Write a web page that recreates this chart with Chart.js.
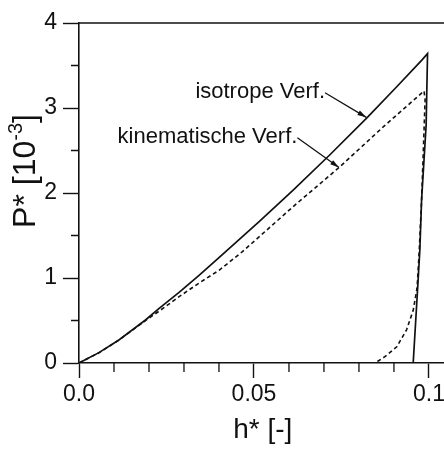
<!DOCTYPE html>
<html>
<head>
<meta charset="utf-8">
<script src="https://cdn.jsdelivr.net/npm/chart.js@4.4.0/dist/chart.umd.min.js"></script>
<style>
  html, body { margin: 0; padding: 0; background: #fff; overflow: hidden; }
  #wrap { position: relative; width: 448px; height: 449px; }
</style>
</head>
<body>
<div id="wrap"><canvas id="chart"></canvas></div>
<script>
// isotropic hardening: loading path, then unloading
const hIso = [0, 0.0057, 0.0114, 0.019, 0.0229, 0.0286, 0.0343, 0.040, 0.0514, 0.0612, 0.0717, 0.0822, 0.0908, 0.0979, 0.0996, 0.0992, 0.0979, 0.0974, 0.0968, 0.0955];
const pIso = [0, 0.122, 0.27, 0.506, 0.643, 0.83, 1.03, 1.24, 1.66, 2.035, 2.45, 2.88, 3.25, 3.56, 3.64, 2.8, 1.92, 1.33, 0.9, 0];

// kinematic hardening
const hKin = [0, 0.0057, 0.0114, 0.019, 0.0229, 0.0286, 0.0343, 0.040, 0.0467, 0.0612, 0.0746, 0.087, 0.0986, 0.0989, 0.0984, 0.0979, 0.0972, 0.0966, 0.0955, 0.0936, 0.0908, 0.0874, 0.0846];
const pKin = [0, 0.12, 0.27, 0.50, 0.61, 0.78, 0.94, 1.09, 1.31, 1.84, 2.31, 2.78, 3.20, 3.1, 2.5, 1.92, 1.3, 0.88, 0.62, 0.39, 0.19, 0.074, 0];

const xTicks = [0, 0.01, 0.02, 0.03, 0.04, 0.05, 0.06, 0.07, 0.08, 0.09, 0.1];
const xTickLabels = { 0: '0.0', 0.05: '0.05', 0.1: '0.1' };
const yTicks = [0, 1, 2, 3, 4];

const FONT = "'Liberation Sans', Arial, Helvetica, sans-serif";
const INK = '#111';

const isMajorX = v => xTickLabels[Math.round(v * 1000) / 1000] !== undefined;
const isMajorY = v => yTicks.includes(v);

// arrows from the labels to the curves (data coordinates)
const callouts = [
  { text: 'isotrope Verf.', from: [0.0703, 3.18], to: [0.0821, 2.89] },
  { text: 'kinematische Verf.', from: [0.0624, 2.65], to: [0.0743, 2.30] }
];

const points = (hs, ps) => hs.map((h, i) => ({ x: h, y: ps[i] }));

// top frame line and the short minor ticks
const frame = {
  id: 'frame',
  afterDraw(chart) {
    const { ctx, chartArea: a, scales: { x, y } } = chart;
    ctx.save();
    ctx.strokeStyle = INK;
    ctx.lineWidth = 1.6;
    ctx.beginPath();
    ctx.moveTo(a.left, a.top);
    ctx.lineTo(a.right + 4, a.top);
    ctx.stroke();
    ctx.lineWidth = 1.3;
    ctx.beginPath();
    x.ticks.forEach(t => {
      if (isMajorX(t.value)) return;
      const px = x.getPixelForValue(t.value);
      ctx.moveTo(px, a.bottom);
      ctx.lineTo(px, a.bottom + 9);
    });
    y.ticks.forEach(t => {
      if (isMajorY(t.value)) return;
      const py = y.getPixelForValue(t.value);
      ctx.moveTo(a.left, py);
      ctx.lineTo(a.left - 8, py);
    });
    ctx.stroke();
    ctx.restore();
  }
};

// rotated y title with superscript exponent
const yTitle = {
  id: 'yTitle',
  afterDraw(chart) {
    const { ctx, chartArea: a } = chart;
    const big = `32px ${FONT}`, small = `20px ${FONT}`;
    const parts = [
      { s: 'P* [10', f: big, dy: 0 },
      { s: '-3', f: small, dy: -10 },
      { s: ']', f: big, dy: 0 }
    ];
    ctx.save();
    let w = 0;
    parts.forEach(p => { ctx.font = p.f; p.w = ctx.measureText(p.s).width; w += p.w; });
    ctx.translate(26, (a.top + a.bottom) / 2 - 22);
    ctx.rotate(-Math.PI / 2);
    ctx.fillStyle = INK;
    ctx.textBaseline = 'middle';
    let cx = -w / 2;
    parts.forEach(p => { ctx.font = p.f; ctx.fillText(p.s, cx, p.dy); cx += p.w; });
    ctx.restore();
  }
};

const labels = {
  id: 'labels',
  afterDraw(chart) {
    const { ctx, scales: { x, y } } = chart;
    ctx.save();
    ctx.fillStyle = INK;
    ctx.strokeStyle = INK;
    ctx.font = `22px ${FONT}`;
    ctx.textAlign = 'right';
    ctx.textBaseline = 'middle';
    callouts.forEach(c => {
      const x0 = x.getPixelForValue(c.from[0]), y0 = y.getPixelForValue(c.from[1]);
      const x1 = x.getPixelForValue(c.to[0]), y1 = y.getPixelForValue(c.to[1]);
      ctx.fillText(c.text, x0, y0 - 1);
      ctx.lineWidth = 1.3;
      ctx.beginPath();
      ctx.moveTo(x0, y0);
      ctx.lineTo(x1, y1);
      ctx.stroke();
      const ang = Math.atan2(y1 - y0, x1 - x0);
      ctx.beginPath();
      ctx.moveTo(x1, y1);
      ctx.lineTo(x1 - 9 * Math.cos(ang) + 2.5 * Math.sin(ang), y1 - 9 * Math.sin(ang) - 2.5 * Math.cos(ang));
      ctx.lineTo(x1 - 9 * Math.cos(ang) - 2.5 * Math.sin(ang), y1 - 9 * Math.sin(ang) + 2.5 * Math.cos(ang));
      ctx.closePath();
      ctx.fill();
    });
    ctx.restore();
  }
};

new Chart(document.getElementById('chart'), {
  type: 'scatter',
  data: {
    datasets: [
      {
        label: 'isotrope Verf.',
        data: points(hIso, pIso),
        showLine: true,
        borderColor: INK,
        borderWidth: 1.7,
        pointRadius: 0,
        tension: 0
      },
      {
        label: 'kinematische Verf.',
        data: points(hKin, pKin),
        showLine: true,
        borderColor: INK,
        borderWidth: 1.6,
        borderDash: [4, 3],
        pointRadius: 0,
        tension: 0
      }
    ]
  },
  options: {
    responsive: true,
    maintainAspectRatio: false,
    animation: false,
    layout: { padding: { top: 23, right: 1.5, bottom: 0, left: 0 } },
    plugins: { legend: { display: false }, tooltip: { enabled: false } },
    scales: {
      x: {
        type: 'linear',
        min: 0,
        max: 0.105,
        afterBuildTicks: s => { s.ticks = xTicks.map(v => ({ value: v })); },
        afterFit: s => { s.height = 86; },
        border: { color: INK, width: 1.6 },
        grid: {
          drawOnChartArea: false,
          tickLength: 15,
          tickWidth: 1.4,
          tickColor: c => (c.tick && isMajorX(c.tick.value)) ? INK : 'rgba(0,0,0,0)'
        },
        ticks: {
          autoSkip: false,
          maxRotation: 0,
          padding: 3,
          color: INK,
          font: { family: FONT, size: 23 },
          callback: v => {
            const r = Math.round(v * 1000) / 1000;
            return xTickLabels[r] !== undefined ? xTickLabels[r] : '';
          }
        },
        title: {
          display: true,
          text: 'h* [-]',
          color: INK,
          font: { family: FONT, size: 28 },
          padding: { top: 0, bottom: 2 }
        }
      },
      y: {
        type: 'linear',
        min: 0,
        max: 4,
        afterFit: s => { s.width = 79; },
        border: { color: INK, width: 1.6 },
        grid: {
          drawOnChartArea: false,
          tickLength: 16,
          tickWidth: 1.4,
          tickColor: c => (c.tick && isMajorY(c.tick.value)) ? INK : 'rgba(0,0,0,0)'
        },
        ticks: {
          stepSize: 0.5,
          autoSkip: false,
          padding: 6,
          color: INK,
          font: { family: FONT, size: 23 },
          callback: v => isMajorY(v) ? String(v) : ''
        }
      }
    }
  },
  plugins: [frame, yTitle, labels]
});
</script>
</body>
</html>
